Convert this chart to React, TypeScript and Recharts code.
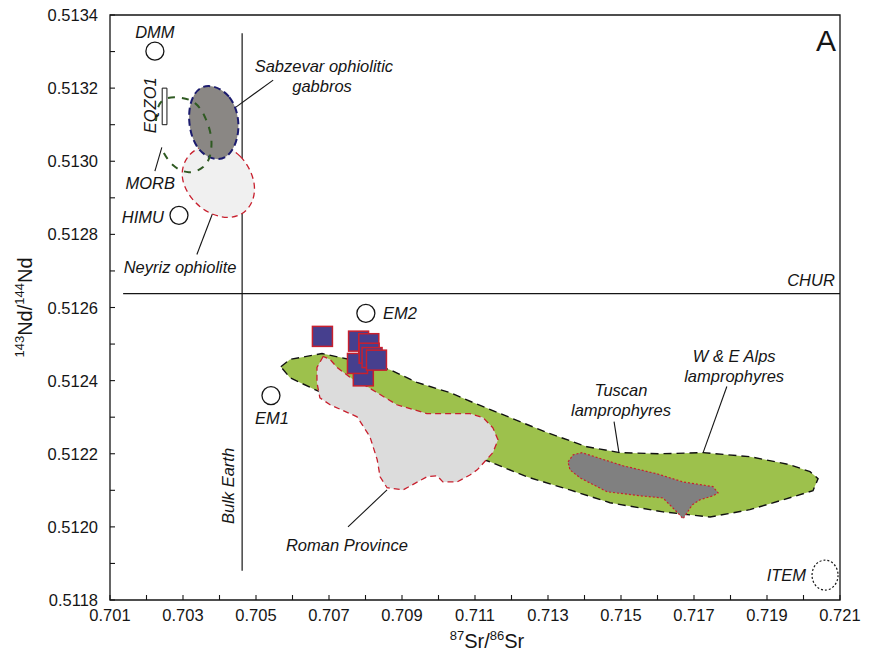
import { ScatterChart, Scatter, XAxis, YAxis, ReferenceLine, ReferenceArea } from "recharts";

const FONT = '"Liberation Sans", Arial, Helvetica, sans-serif';
const INK = "#151515";
const RED = "#c8202e";

// axis ticks: every 0.001 / 0.0001, labels on every other one
const X_TICKS = [
  0.701, 0.702, 0.703, 0.704, 0.705, 0.706, 0.707, 0.708, 0.709, 0.71, 0.711,
  0.712, 0.713, 0.714, 0.715, 0.716, 0.717, 0.718, 0.719, 0.72, 0.721,
];
const Y_TICKS = [
  0.5118, 0.5119, 0.512, 0.5121, 0.5122, 0.5123, 0.5124, 0.5125, 0.5126,
  0.5127, 0.5128, 0.5129, 0.513, 0.5131, 0.5132, 0.5133, 0.5134,
];

// samples (blue squares)
const SAMPLES = [
  { x: 0.70794, y: 0.512413 },
  { x: 0.70682, y: 0.512521 },
  { x: 0.70781, y: 0.512508 },
  { x: 0.70778, y: 0.512447 },
  { x: 0.70809, y: 0.512501 },
  { x: 0.7081, y: 0.512475 },
  { x: 0.70818, y: 0.512463 },
  { x: 0.7083, y: 0.512456 },
];

// mantle end-members (open circles)
const END_MEMBERS = [
  { x: 0.70223, y: 0.513301 }, // DMM
  { x: 0.70289, y: 0.512852 }, // HIMU
  { x: 0.70801, y: 0.512584 }, // EM2
  { x: 0.70541, y: 0.512359 }, // EM1
];
const ITEM = [{ x: 0.72059, y: 0.511868 }];

// fields
const ALPS = [
  { x: 0.70568, y: 0.512438 }, { x: 0.70593, y: 0.512458 }, { x: 0.70681, y: 0.512474 },
  { x: 0.70785, y: 0.512452 }, { x: 0.70867, y: 0.51243 }, { x: 0.70941, y: 0.512395 },
  { x: 0.71032, y: 0.512367 }, { x: 0.71095, y: 0.51234 }, { x: 0.71196, y: 0.512299 },
  { x: 0.71297, y: 0.512258 }, { x: 0.71407, y: 0.512219 }, { x: 0.71497, y: 0.512203 },
  { x: 0.71607, y: 0.5122 }, { x: 0.71725, y: 0.512203 }, { x: 0.71853, y: 0.512192 },
  { x: 0.71963, y: 0.51217 }, { x: 0.72018, y: 0.512151 }, { x: 0.7204, y: 0.512132 },
  { x: 0.72026, y: 0.512099 }, { x: 0.71944, y: 0.512074 }, { x: 0.71853, y: 0.512047 },
  { x: 0.71744, y: 0.512027 }, { x: 0.71615, y: 0.512041 }, { x: 0.7147, y: 0.512066 },
  { x: 0.7136, y: 0.512101 }, { x: 0.71242, y: 0.512137 }, { x: 0.71141, y: 0.512178 },
  { x: 0.71004, y: 0.512225 }, { x: 0.7084, y: 0.512293 }, { x: 0.70656, y: 0.512378 },
  { x: 0.70593, y: 0.512408 },
];

const ROMAN = [
  { x: 0.70684, y: 0.512466 }, { x: 0.70667, y: 0.512436 }, { x: 0.70667, y: 0.512395 },
  { x: 0.70675, y: 0.512353 }, { x: 0.70703, y: 0.512334 }, { x: 0.70777, y: 0.512301 },
  { x: 0.70812, y: 0.512247 }, { x: 0.70832, y: 0.512184 }, { x: 0.7084, y: 0.512137 },
  { x: 0.70859, y: 0.512107 }, { x: 0.70903, y: 0.512101 }, { x: 0.70968, y: 0.512137 },
  { x: 0.70996, y: 0.51214 }, { x: 0.71012, y: 0.512123 }, { x: 0.71051, y: 0.512123 },
  { x: 0.71086, y: 0.512142 }, { x: 0.71106, y: 0.512156 }, { x: 0.71149, y: 0.512203 },
  { x: 0.71163, y: 0.512238 }, { x: 0.71149, y: 0.512271 }, { x: 0.71122, y: 0.512299 },
  { x: 0.71086, y: 0.51231 }, { x: 0.70968, y: 0.51231 }, { x: 0.70886, y: 0.512334 },
  { x: 0.7084, y: 0.512362 }, { x: 0.70804, y: 0.512384 }, { x: 0.70766, y: 0.512403 },
  { x: 0.70722, y: 0.512436 }, { x: 0.70703, y: 0.512458 },
];

const TUSCAN = [
  { x: 0.71355, y: 0.512178 }, { x: 0.71369, y: 0.512197 }, { x: 0.71393, y: 0.512203 },
  { x: 0.71506, y: 0.512167 }, { x: 0.71599, y: 0.512145 }, { x: 0.7167, y: 0.512123 },
  { x: 0.71752, y: 0.51211 }, { x: 0.71766, y: 0.512093 }, { x: 0.71752, y: 0.512085 },
  { x: 0.71716, y: 0.512074 }, { x: 0.71695, y: 0.51206 }, { x: 0.7167, y: 0.512022 },
  { x: 0.71653, y: 0.512041 }, { x: 0.71615, y: 0.512079 }, { x: 0.71552, y: 0.512085 },
  { x: 0.71462, y: 0.512096 }, { x: 0.71388, y: 0.512134 }, { x: 0.7136, y: 0.512156 },
];

// ellipse-like fields, control points of a closed B-spline
const NEYRIZ = [
  { x: 0.70388, y: 0.513055 }, { x: 0.70462, y: 0.513022 }, { x: 0.70505, y: 0.512937 },
  { x: 0.70486, y: 0.512866 }, { x: 0.70426, y: 0.512836 }, { x: 0.70341, y: 0.512868 },
  { x: 0.70286, y: 0.512951 }, { x: 0.70311, y: 0.513027 },
];
const SABZEVAR = [
  { x: 0.70366, y: 0.513216 }, { x: 0.70434, y: 0.513184 }, { x: 0.70459, y: 0.513101 },
  { x: 0.7044, y: 0.513025 }, { x: 0.70396, y: 0.512995 }, { x: 0.70333, y: 0.51303 },
  { x: 0.70311, y: 0.513115 }, { x: 0.70325, y: 0.513186 },
];
const MORB = [
  { x: 0.70226, y: 0.51311 }, { x: 0.70234, y: 0.513153 }, { x: 0.70259, y: 0.513173 },
  { x: 0.70297, y: 0.513173 }, { x: 0.70333, y: 0.513159 }, { x: 0.7036, y: 0.513121 },
  { x: 0.70377, y: 0.513066 }, { x: 0.70374, y: 0.513016 }, { x: 0.70355, y: 0.512984 },
  { x: 0.70316, y: 0.51297 }, { x: 0.70273, y: 0.512989 }, { x: 0.70245, y: 0.513027 },
];

const EQZO1 = { x1: 0.70243, x2: 0.70256, y1: 0.5131, y2: 0.5132 };
const BULK_EARTH = { x: 0.70462, y1: 0.51188, y2: 0.51335 };
const CHUR = { y: 0.512638, x1: 0.70136, x2: 0.721 };

// leader lines from labels to fields
const LEADERS = [
  [{ x: 0.70547, y: 0.513222 }, { x: 0.70445, y: 0.513148 }],
  [{ x: 0.70223, y: 0.512973 }, { x: 0.70242, y: 0.513038 }],
  [{ x: 0.70382, y: 0.51286 }, { x: 0.70338, y: 0.512745 }],
  [{ x: 0.70859, y: 0.512101 }, { x: 0.70752, y: 0.512 }],
  [{ x: 0.71481, y: 0.512288 }, { x: 0.715, y: 0.512167 }],
  [{ x: 0.7179, y: 0.512384 }, { x: 0.71725, y: 0.512203 }],
];

const NOTES = [
  { text: "DMM", x: 0.70223, y: 0.513353, anchor: "middle" },
  { text: "EQZO1", x: 0.7021, y: 0.513153, anchor: "middle", vertical: true },
  { text: "MORB", x: 0.7021, y: 0.51294, anchor: "middle" },
  { text: "HIMU", x: 0.7019, y: 0.512847, anchor: "middle" },
  { text: "Sabzevar ophiolitic", x: 0.70686, y: 0.51326, anchor: "middle" },
  { text: "gabbros", x: 0.70681, y: 0.513205, anchor: "middle" },
  { text: "Neyriz ophiolite", x: 0.70292, y: 0.51271, anchor: "middle" },
  { text: "CHUR", x: 0.72086, y: 0.512674, anchor: "end" },
  { text: "EM2", x: 0.70848, y: 0.512584, anchor: "start" },
  { text: "EM1", x: 0.70544, y: 0.512299, anchor: "middle" },
  { text: "Bulk Earth", x: 0.70423, y: 0.512112, anchor: "middle", vertical: true },
  { text: "Roman Province", x: 0.70749, y: 0.511951, anchor: "middle" },
  { text: "Tuscan", x: 0.715, y: 0.512373, anchor: "middle" },
  { text: "lamprophyres", x: 0.715, y: 0.51232, anchor: "middle" },
  { text: "W & E Alps", x: 0.7181, y: 0.512466, anchor: "middle" },
  { text: "lamprophyres", x: 0.7181, y: 0.512414, anchor: "middle" },
  { text: "ITEM", x: 0.72007, y: 0.511868, anchor: "end" },
];
const PANEL = [{ text: "A", x: 0.72062, y: 0.513329 }];

const HIDDEN = () => <g />;

const XTick = ({ x, y, payload }: any) => {
  const v = payload.value as number;
  const labelled = Math.round(v * 1000) % 2 === 1;
  return (
    <g>
      <line x1={x} x2={x} y1={y} y2={y - 5} stroke={INK} strokeWidth={1.1} />
      {labelled && (
        <text x={x} y={y + 15} textAnchor="middle" dominantBaseline="central" fontSize={16.5} fill={INK} fontFamily={FONT}>
          {v.toFixed(3)}
        </text>
      )}
    </g>
  );
};

const YTick = ({ x, y, payload }: any) => {
  const v = payload.value as number;
  const labelled = Math.round(v * 10000) % 2 === 0;
  return (
    <g>
      <line x1={x} x2={x + 5} y1={y} y2={y} stroke={INK} strokeWidth={1.1} />
      {labelled && (
        <text x={x - 12} y={y} textAnchor="end" dominantBaseline="central" fontSize={16.5} fill={INK} fontFamily={FONT}>
          {v.toFixed(4)}
        </text>
      )}
    </g>
  );
};

const XTitle = ({ viewBox }: any) => (
  <text x={viewBox.x + viewBox.width / 2 + 12} y={viewBox.y + 48} textAnchor="middle" fontSize={20} fill={INK} fontFamily={FONT}>
    <tspan fontSize={13} dy={-8}>87</tspan>
    <tspan dy={8}>Sr/</tspan>
    <tspan fontSize={13} dy={-8}>86</tspan>
    <tspan dy={8}>Sr</tspan>
  </text>
);

const YTitle = ({ viewBox }: any) => {
  const cx = viewBox.x - 18;
  const cy = viewBox.y + viewBox.height / 2;
  return (
    <text x={cx} y={cy} transform={`rotate(-90, ${cx}, ${cy})`} textAnchor="middle" fontSize={20} fill={INK} fontFamily={FONT}>
      <tspan fontSize={13} dy={-8}>143</tspan>
      <tspan dy={8}>Nd/</tspan>
      <tspan fontSize={13} dy={-8}>144</tspan>
      <tspan dy={8}>Nd</tspan>
    </text>
  );
};

const NoteShape = ({ cx, cy, payload }: any) => (
  <text
    x={cx}
    y={cy}
    transform={payload.vertical ? `rotate(-90, ${cx}, ${cy})` : undefined}
    textAnchor={payload.anchor}
    dominantBaseline="central"
    fontSize={16.5}
    fontStyle="italic"
    fill={INK}
    fontFamily={FONT}
  >
    {payload.text}
  </text>
);

export default function App() {
  return (
    <div style={{ position: "absolute", left: 0, top: 0, background: "#fff" }}>
      <ScatterChart width={885} height={661} margin={{ top: 15, right: 45, bottom: 21, left: 50 }}>
        <XAxis
          type="number"
          dataKey="x"
          domain={[0.701, 0.721]}
          ticks={X_TICKS}
          interval={0}
          allowDataOverflow
          height={40}
          axisLine={false}
          tickLine={false}
          tickSize={0}
          tickMargin={0}
          tick={<XTick />}
          label={{ content: XTitle }}
        />
        <YAxis
          type="number"
          dataKey="y"
          domain={[0.5118, 0.5134]}
          ticks={Y_TICKS}
          interval={0}
          allowDataOverflow
          width={60}
          axisLine={false}
          tickLine={false}
          tickSize={0}
          tickMargin={0}
          tick={<YTick />}
          label={{ content: YTitle }}
        />

        <Scatter data={ALPS} shape={HIDDEN} isAnimationActive={false} lineJointType="linearClosed"
          line={{ fill: "#9dc14c", stroke: "#111", strokeWidth: 1.4, strokeDasharray: "8 5" }} />
        <Scatter data={ROMAN} shape={HIDDEN} isAnimationActive={false} lineJointType="linearClosed"
          line={{ fill: "#dcdcdc", stroke: RED, strokeWidth: 1.3, strokeDasharray: "6 4" }} />
        <Scatter data={TUSCAN} shape={HIDDEN} isAnimationActive={false} lineJointType="linearClosed"
          line={{ fill: "#808080", stroke: RED, strokeWidth: 1.2, strokeDasharray: "2 2" }} />
        <Scatter data={NEYRIZ} shape={HIDDEN} isAnimationActive={false} lineJointType="basisClosed"
          line={{ fill: "#f0f0f0", stroke: RED, strokeWidth: 1.3, strokeDasharray: "6 4" }} />
        <Scatter data={SABZEVAR} shape={HIDDEN} isAnimationActive={false} lineJointType="basisClosed"
          line={{ fill: "#8a8784", stroke: "#1c1c6e", strokeWidth: 2, strokeDasharray: "7 4" }} />
        <Scatter data={MORB} shape={HIDDEN} isAnimationActive={false} lineJointType="natural"
          line={{ stroke: "#2f5a22", strokeWidth: 2, strokeDasharray: "7 7" }} />

        <ReferenceLine segment={[{ x: BULK_EARTH.x, y: BULK_EARTH.y1 }, { x: BULK_EARTH.x, y: BULK_EARTH.y2 }]} stroke={INK} strokeWidth={1.2} />
        <ReferenceLine segment={[{ x: CHUR.x1, y: CHUR.y }, { x: CHUR.x2, y: CHUR.y }]} stroke={INK} strokeWidth={1.2} />
        {LEADERS.map((seg, i) => (
          <ReferenceLine key={i} segment={seg} stroke={INK} strokeWidth={1.1} />
        ))}
        <ReferenceArea x1={EQZO1.x1} x2={EQZO1.x2} y1={EQZO1.y1} y2={EQZO1.y2} fill="#fff" fillOpacity={1} stroke={INK} strokeWidth={1} />

        <Scatter
          data={SAMPLES}
          isAnimationActive={false}
          shape={({ cx, cy }: any) => (
            <rect x={cx - 10} y={cy - 10} width={20} height={20} fill="#463f8e" stroke={RED} strokeWidth={1.5} />
          )}
        />
        <Scatter
          data={END_MEMBERS}
          isAnimationActive={false}
          shape={({ cx, cy }: any) => <circle cx={cx} cy={cy} r={9} fill="#fff" stroke={INK} strokeWidth={1.3} />}
        />
        <Scatter
          data={ITEM}
          isAnimationActive={false}
          shape={({ cx, cy }: any) => (
            <ellipse cx={cx} cy={cy} rx={13} ry={15} fill="none" stroke={INK} strokeWidth={1.2} strokeDasharray="2 2" />
          )}
        />
        <Scatter data={NOTES} isAnimationActive={false} shape={NoteShape} />
        <Scatter
          data={PANEL}
          isAnimationActive={false}
          shape={({ cx, cy, payload }: any) => (
            <text x={cx} y={cy} textAnchor="middle" dominantBaseline="central" fontSize={30} fill={INK} fontFamily={FONT}>
              {payload.text}
            </text>
          )}
        />

        <ReferenceArea x1={0.701} x2={0.721} y1={0.5118} y2={0.5134} fill="none" stroke={INK} strokeWidth={1.3} ifOverflow="visible" />
      </ScatterChart>
    </div>
  );
}
